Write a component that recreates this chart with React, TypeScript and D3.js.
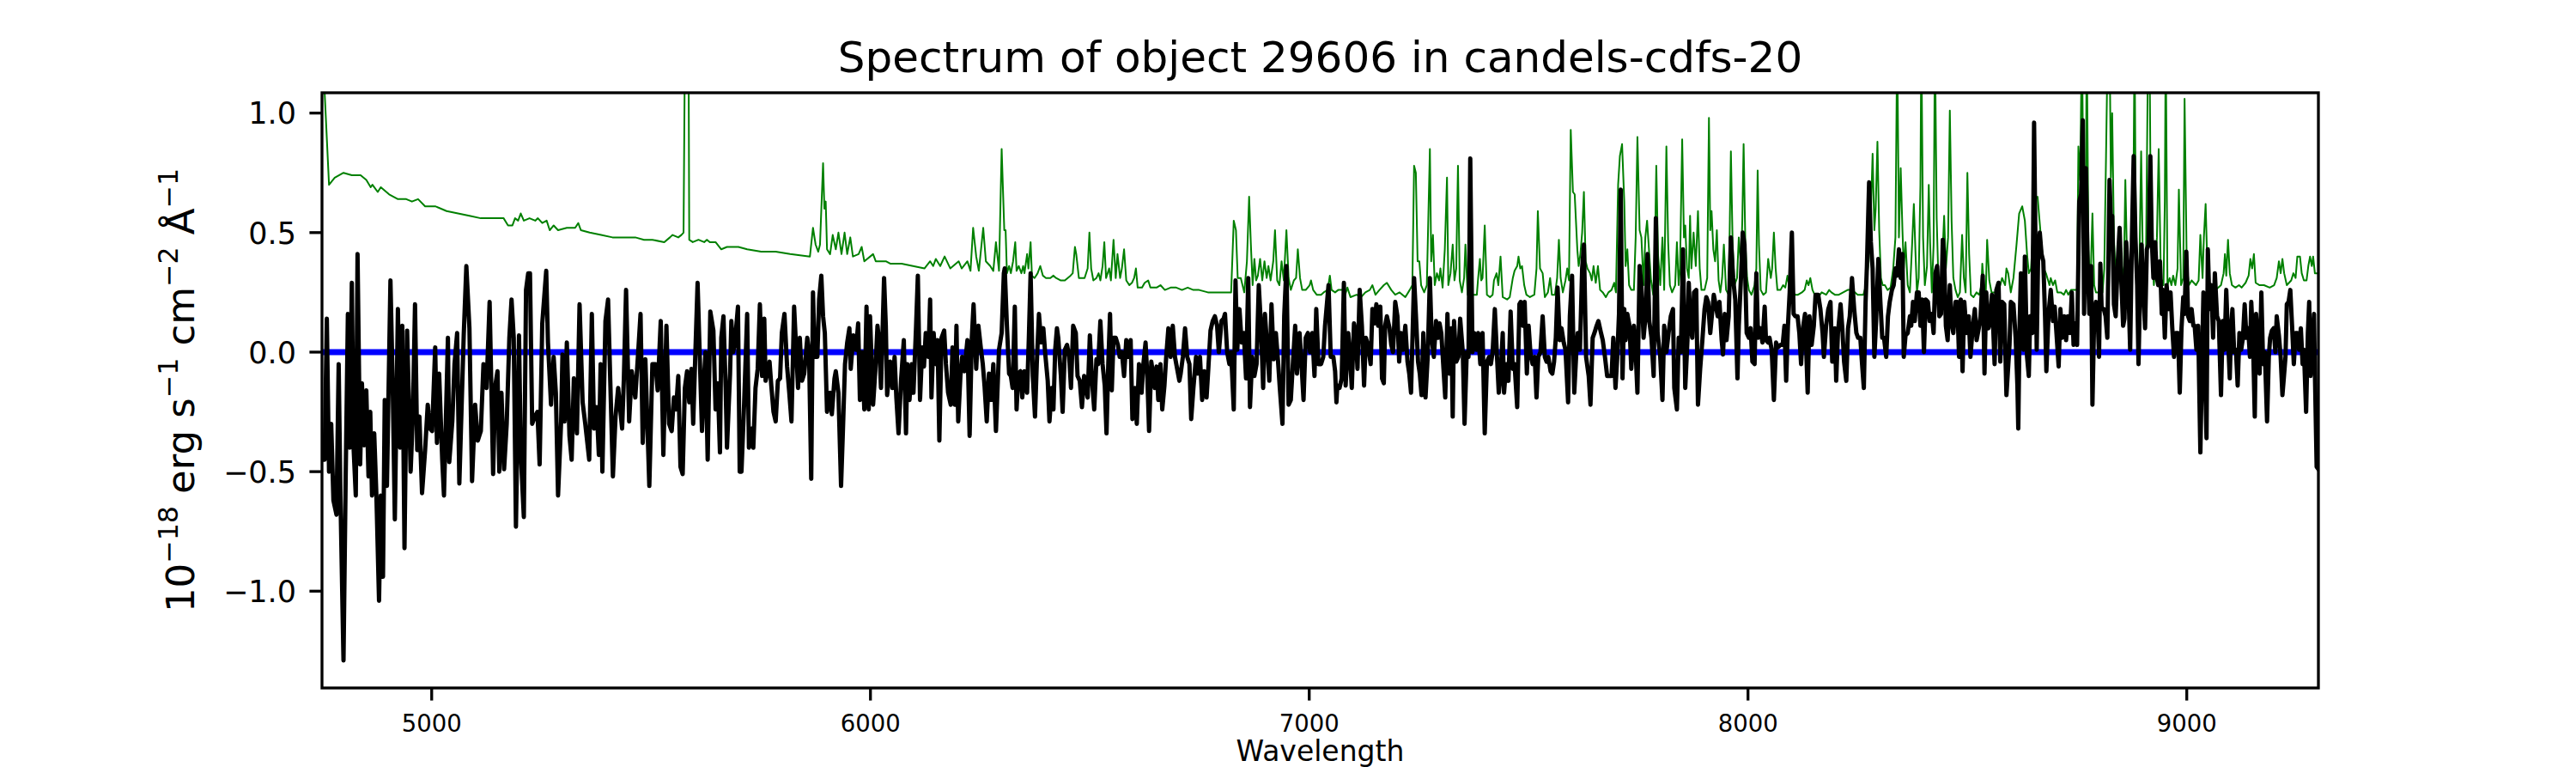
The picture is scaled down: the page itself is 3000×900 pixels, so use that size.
import React from "react";
import * as d3 from "d3";

type P = [number, number];

const TITLE = "Spectrum of object 29606 in candels-cdfs-20";
const X_LABEL = "Wavelength";
const xTicks = [5000, 6000, 7000, 8000, 9000];
const yTicks = [-1.0, -0.5, 0.0, 0.5, 1.0];
const xDomain: [number, number] = [4750, 9300];
const yDomain: [number, number] = [-1.405, 1.085];
const zeroLevel = 0;

// object spectrum (black)
const spec1: P[] = [[4750,-0.45],[4756,-0.45],[4761,0.14],[4766,-0.50],[4771,-0.30],[4776,-0.62],[4783,-0.68],[4788,-0.05],[4792,-0.60],[4799,-1.29],[4804,-0.52],[4809,0.16],[4813,-0.40],[4818,0.29],[4822,-0.40],[4827,-0.60],[4831,0.41],[4837,-0.47],[4841,-0.13],[4846,-0.39],[4851,-0.16],[4856,-0.52],[4860,-0.25],[4864,-0.60],[4869,-0.34],[4874,-0.60],[4880,-1.04],[4884,-0.60],[4889,-0.94],[4893,-0.20],[4898,-0.56],[4906,0.30],[4911,-0.12],[4916,-0.70],[4923,0.18],[4928,-0.40],[4933,0.11],[4938,-0.82],[4944,0.09],[4952,-0.50],[4957,-0.27],[4962,0.20],[4967,-0.41],[4972,-0.27],[4978,-0.59],[4985,-0.41],[4991,-0.22],[4996,-0.32],[5001,-0.33],[5008,0.02],[5012,-0.38],[5017,-0.09],[5024,-0.45],[5028,-0.60],[5037,0.06],[5040,-0.46],[5047,-0.29],[5052,-0.05],[5058,0.08],[5063,-0.55],[5073,0.07],[5079,0.36],[5086,0.10],[5092,-0.54],[5099,-0.22],[5105,-0.37],[5112,-0.33],[5118,-0.05],[5125,-0.15],[5132,0.21],[5140,-0.51],[5145,-0.14],[5150,-0.08],[5154,-0.50],[5159,-0.17],[5165,-0.49],[5171,-0.30],[5177,0.06],[5182,0.22],[5187,0.06],[5192,-0.73],[5199,0.07],[5203,-0.42],[5210,-0.69],[5215,0.26],[5220,0.33],[5224,0.33],[5229,-0.30],[5235,-0.27],[5241,-0.25],[5246,-0.47],[5252,0.12],[5261,0.34],[5265,0.04],[5272,-0.22],[5278,-0.02],[5283,-0.17],[5288,-0.60],[5295,-0.29],[5298,-0.01],[5303,-0.29],[5308,0.04],[5314,-0.35],[5319,-0.45],[5324,-0.11],[5331,-0.34],[5337,0.20],[5344,-0.21],[5350,-0.30],[5359,-0.45],[5365,0.16],[5370,-0.32],[5376,-0.23],[5381,-0.43],[5385,-0.05],[5389,-0.50],[5396,0.13],[5402,0.22],[5407,-0.12],[5413,-0.52],[5419,-0.27],[5425,-0.15],[5434,-0.32],[5438,-0.11],[5443,0.26],[5450,-0.29],[5456,-0.08],[5464,-0.19],[5471,0.01],[5476,0.16],[5481,-0.38],[5487,-0.03],[5496,-0.56],[5503,-0.05],[5510,-0.05],[5515,-0.16],[5522,0.13],[5528,-0.43],[5535,0.11],[5541,-0.30]];
const spec2: P[] = [[5547,-0.33],[5552,-0.19],[5557,-0.24],[5562,-0.10],[5567,-0.48],[5572,-0.51],[5577,-0.15],[5582,-0.08],[5587,-0.21],[5592,-0.07],[5596,-0.30],[5601,0.00],[5606,0.29],[5611,-0.02],[5616,-0.33],[5621,-0.10],[5624,0.00],[5629,-0.45],[5635,0.17],[5642,0.09],[5647,-0.24],[5652,-0.13],[5657,-0.42],[5660,0.06],[5665,0.15],[5670,-0.15],[5673,-0.40],[5680,-0.09],[5683,0.13],[5687,0.00],[5691,0.04],[5698,0.19],[5702,-0.50],[5706,-0.50],[5712,-0.22],[5719,0.16],[5723,-0.40],[5729,-0.32],[5733,-0.40],[5738,-0.15],[5743,-0.07],[5748,0.20],[5753,-0.10],[5758,0.14],[5761,-0.12],[5766,-0.08],[5770,-0.04],[5774,-0.14],[5779,-0.25],[5784,-0.29],[5789,-0.12],[5794,-0.11],[5798,0.08],[5804,0.16],[5810,-0.06],[5815,-0.17],[5820,-0.29],[5826,0.19],[5831,0.00],[5835,-0.15],[5839,0.06],[5844,-0.12],[5849,-0.09],[5856,0.06],[5860,0.00],[5865,-0.53],[5869,0.25],[5873,-0.02],[5879,-0.02],[5883,0.22],[5888,0.32],[5892,0.15],[5896,0.08],[5901,-0.25],[5908,-0.17],[5912,-0.26],[5918,-0.11],[5921,-0.08],[5927,-0.17],[5933,-0.56],[5937,-0.34],[5942,-0.05],[5947,0.04],[5952,0.10],[5955,-0.07],[5961,0.07],[5967,0.01],[5972,0.12],[5976,-0.20],[5981,0.00],[5986,-0.24],[5991,0.19],[5996,-0.24],[5999,0.15],[6006,-0.22],[6011,-0.08],[6016,0.11],[6020,0.04],[6024,-0.15],[6031,0.31],[6035,0.11],[6038,-0.18],[6045,-0.04],[6050,-0.15],[6055,-0.02],[6059,-0.19],[6064,-0.34],[6070,-0.11],[6076,0.05],[6081,-0.34],[6084,-0.05],[6089,-0.20],[6094,-0.05],[6098,-0.17],[6104,0.11],[6108,0.32],[6113,-0.20],[6118,0.02],[6122,-0.06],[6126,0.08],[6132,-0.02],[6136,0.22],[6139,-0.19],[6144,0.08],[6149,-0.05],[6153,0.05],[6157,-0.37],[6162,0.06],[6168,0.09],[6172,-0.05],[6177,-0.17],[6183,-0.22],[6187,0.02],[6192,-0.22],[6196,0.11],[6200,-0.29],[6205,-0.10],[6209,-0.02],[6214,-0.08],[6221,0.05],[6226,-0.35],[6231,0.06],[6235,0.20],[6241,-0.07],[6246,0.11],[6252,0.01],[6256,-0.05],[6260,-0.14],[6265,-0.29],[6270,-0.09],[6275,-0.20],[6280,-0.05],[6286,-0.33],[6293,0.01],[6299,0.08],[6304,0.33]];
const spec3: P[] = [[6306,0.35],[6311,0.11],[6316,-0.09],[6320,-0.10],[6324,-0.15],[6329,0.19],[6333,-0.24],[6337,-0.09],[6342,-0.08],[6346,-0.19],[6351,-0.08],[6357,-0.17],[6361,0.06],[6365,0.33],[6370,-0.10],[6375,-0.27],[6379,-0.05],[6384,0.16],[6389,0.04],[6394,0.10],[6398,0.00],[6404,-0.12],[6408,-0.29],[6413,-0.15],[6417,-0.24],[6421,0.01],[6425,0.10],[6428,0.06],[6434,-0.10],[6438,-0.25],[6443,0.01],[6448,0.03],[6453,-0.02],[6457,-0.15],[6462,0.11],[6468,0.08],[6472,-0.10],[6477,-0.12],[6482,-0.23],[6487,-0.10],[6491,-0.15],[6495,-0.19],[6500,0.07],[6505,-0.12],[6510,-0.24],[6515,-0.03],[6519,-0.05],[6524,0.13],[6529,-0.05],[6534,-0.14],[6538,-0.34],[6542,-0.05],[6546,0.16],[6550,-0.16],[6554,0.06],[6559,0.06],[6564,0.03],[6568,-0.02],[6573,0.00],[6578,-0.10],[6583,0.05],[6588,-0.02],[6593,0.05],[6597,-0.28],[6603,-0.15],[6607,-0.30],[6612,-0.05],[6618,-0.17],[6622,-0.05],[6627,0.04],[6631,-0.10],[6635,-0.33],[6640,-0.04],[6644,-0.09],[6648,-0.15],[6652,-0.06],[6656,-0.20],[6661,-0.05],[6665,-0.24],[6670,-0.14],[6674,-0.02],[6679,0.10],[6684,-0.02],[6689,0.11],[6694,-0.02],[6699,-0.07],[6704,-0.12],[6707,-0.09],[6712,-0.02],[6717,0.10],[6722,-0.02],[6727,-0.05],[6731,-0.28],[6736,-0.15],[6742,-0.02],[6746,-0.09],[6751,-0.02],[6756,-0.20],[6761,-0.08],[6766,-0.19],[6770,-0.07],[6775,0.09],[6780,0.13],[6785,0.15],[6790,0.11],[6794,0.00],[6800,0.13],[6805,0.14],[6808,0.16],[6813,0.00],[6818,-0.05],[6822,0.00],[6828,-0.24],[6832,0.30],[6836,0.01],[6841,0.18],[6846,0.04],[6851,0.08],[6856,-0.11],[6861,0.31],[6865,-0.23],[6870,-0.02],[6875,-0.10],[6880,-0.05],[6885,0.28],[6890,0.11],[6895,-0.15],[6899,0.16],[6905,0.00],[6909,-0.12],[6914,0.20],[6919,-0.03],[6924,0.08],[6929,-0.04],[6933,-0.15],[6939,-0.30],[6943,0.15],[6948,0.36],[6953,-0.22],[6958,-0.20],[6963,-0.04],[6968,0.11],[6972,-0.09],[6978,0.08],[6983,-0.07],[6987,-0.20],[6992,0.06],[6997,0.08],[7002,0.00],[7007,0.08],[7012,-0.10],[7016,0.18],[7021,-0.05],[7027,-0.05],[7032,-0.02],[7036,0.11],[7044,0.28],[7049,-0.02],[7055,-0.02],[7059,-0.08],[7062,-0.21]];
const spec4: P[] = [[7064,-0.14],[7069,-0.15],[7074,-0.11],[7079,0.29],[7083,-0.14],[7089,0.08],[7093,-0.02],[7097,-0.15],[7102,0.12],[7106,0.08],[7110,-0.07],[7115,0.26],[7120,0.11],[7125,-0.14],[7129,0.06],[7134,0.03],[7140,-0.05],[7144,0.18],[7149,0.12],[7153,0.20],[7157,0.11],[7162,0.19],[7166,-0.11],[7170,-0.13],[7173,0.11],[7177,0.15],[7183,0.10],[7187,0.03],[7191,0.00],[7196,0.21],[7201,0.15],[7205,-0.04],[7209,0.08],[7214,0.01],[7219,0.11],[7224,-0.04],[7228,-0.09],[7232,-0.17],[7239,0.31],[7243,0.16],[7248,-0.04],[7252,-0.09],[7256,-0.18],[7260,0.08],[7265,-0.19],[7270,-0.02],[7275,0.31],[7279,0.06],[7284,-0.02],[7289,0.13],[7294,0.06],[7297,0.12],[7301,0.08],[7306,-0.07],[7310,-0.19],[7315,0.16],[7319,-0.09],[7324,0.10],[7327,-0.27],[7330,0.13],[7335,-0.04],[7340,-0.02],[7344,0.14],[7350,0.00],[7354,-0.30],[7359,0.00],[7363,-0.02],[7367,0.81],[7372,0.00],[7376,0.08],[7381,0.01],[7385,0.08],[7390,-0.05],[7395,0.08],[7400,-0.34],[7405,-0.04],[7410,-0.02],[7414,-0.05],[7418,0.00],[7423,0.18],[7428,-0.02],[7432,-0.17],[7436,-0.10],[7441,0.08],[7444,-0.17],[7449,-0.05],[7454,-0.12],[7459,0.17],[7464,-0.07],[7468,-0.05],[7474,-0.23],[7479,0.20],[7482,0.21],[7487,0.11],[7491,0.21],[7496,-0.09],[7500,0.11],[7504,0.00],[7509,-0.05],[7514,-0.02],[7518,-0.19],[7522,-0.02],[7527,0.00],[7532,0.15],[7537,-0.02],[7541,-0.04],[7545,-0.02],[7550,-0.08],[7554,-0.09],[7558,-0.04],[7562,0.06],[7566,0.27],[7571,0.05],[7575,0.10],[7580,0.04],[7584,0.01],[7590,-0.21],[7594,0.15],[7599,0.32],[7604,-0.17],[7609,0.01],[7612,0.08],[7617,0.01],[7622,0.35],[7626,0.45],[7631,-0.02],[7637,-0.10],[7641,-0.22],[7646,0.06],[7650,0.08],[7655,0.11],[7659,0.13],[7665,0.08],[7669,0.05],[7674,-0.02],[7679,-0.10],[7684,-0.10],[7689,-0.10],[7693,0.06],[7698,-0.15],[7702,-0.02],[7706,0.16],[7710,0.68],[7714,-0.11],[7718,0.18],[7721,0.05],[7725,0.16],[7730,0.11],[7734,-0.07],[7740,0.11],[7744,0.00],[7748,-0.17],[7753,0.36],[7757,0.28],[7762,0.06],[7767,0.16],[7771,0.41],[7775,0.13],[7780,0.06],[7785,-0.10],[7790,0.56],[7794,0.08],[7800,-0.02],[7805,-0.20],[7809,0.11],[7814,0.00],[7819,0.08],[7824,0.15],[7829,0.18]];
const spec5: P[] = [[7832,-0.15],[7838,-0.24],[7842,0.06],[7847,0.00],[7852,0.43],[7857,-0.15],[7862,0.05],[7865,0.29],[7869,0.11],[7873,0.06],[7877,0.25],[7882,0.26],[7886,-0.22],[7891,-0.07],[7896,0.05],[7901,0.18],[7905,0.23],[7909,0.21],[7914,0.08],[7918,0.16],[7922,0.24],[7926,0.20],[7931,0.15],[7935,0.21],[7940,0.05],[7943,-0.01],[7947,0.16],[7951,0.05],[7956,0.15],[7961,0.48],[7966,0.31],[7971,0.22],[7976,-0.11],[7979,0.11],[7984,0.31],[7988,0.50],[7992,0.45],[7997,0.08],[8002,0.06],[8006,0.10],[8010,-0.04],[8015,-0.05],[8019,0.33],[8023,0.06],[8028,0.10],[8033,0.04],[8038,0.19],[8041,0.05],[8046,0.04],[8049,0.06],[8054,0.01],[8059,-0.20],[8064,0.04],[8068,0.02],[8074,0.03],[8079,0.03],[8083,0.11],[8087,-0.12],[8091,0.11],[8095,0.25],[8100,0.50],[8104,0.16],[8108,0.15],[8113,0.15],[8117,0.08],[8121,-0.05],[8126,0.11],[8130,0.16],[8136,-0.17],[8140,0.15],[8145,0.03],[8150,0.11],[8154,0.24],[8160,0.24],[8165,0.18],[8170,0.08],[8173,-0.02],[8178,0.11],[8183,0.18],[8188,0.21],[8192,-0.04],[8198,0.10],[8201,-0.12],[8205,0.08],[8211,0.20],[8215,0.10],[8219,-0.04],[8224,-0.12],[8228,0.10],[8232,0.15],[8237,0.31],[8242,0.18],[8247,0.08],[8251,0.06],[8256,0.06],[8260,-0.05],[8264,-0.15],[8268,0.21],[8271,0.36],[8276,0.71],[8280,0.46],[8284,0.35],[8288,-0.02],[8292,0.13],[8297,0.39],[8302,0.20],[8306,0.06],[8310,0.06],[8315,-0.02],[8319,0.15],[8323,0.21],[8328,0.26],[8332,0.28],[8336,0.35],[8340,0.32],[8344,0.43],[8348,0.31],[8352,0.41],[8355,-0.02],[8359,0.07],[8364,0.08],[8369,0.15],[8372,0.11],[8376,0.21],[8380,0.13],[8385,0.25],[8389,0.25],[8393,0.11],[8397,0.22],[8401,0.00],[8405,0.22],[8410,0.21],[8414,0.13],[8419,0.16],[8423,0.08],[8427,0.33],[8431,0.36],[8436,0.15],[8440,0.16],[8444,0.47],[8447,0.40],[8451,0.11],[8455,0.05],[8460,0.28],[8464,0.12],[8468,0.08],[8473,0.21],[8477,0.21],[8481,-0.02],[8485,0.22],[8489,-0.08],[8493,0.21],[8498,0.08],[8503,0.15],[8507,-0.02],[8512,0.10],[8517,0.18],[8521,0.05],[8526,0.10],[8530,0.15],[8535,0.32],[8539,-0.09],[8543,0.25],[8548,0.10],[8552,0.13],[8556,0.24],[8562,-0.05],[8566,0.26],[8571,0.29],[8575,-0.04],[8579,0.21],[8584,0.20],[8589,-0.18]];
const spec6: P[] = [[8596,0.03],[8599,0.21],[8605,0.20],[8610,0.06],[8614,-0.14],[8616,-0.32],[8619,0.11],[8622,0.33],[8626,0.25],[8628,0.01],[8631,0.40],[8636,-0.02],[8640,-0.10],[8643,0.15],[8648,0.08],[8652,0.96],[8655,0.48],[8658,0.01],[8661,0.38],[8665,0.50],[8669,0.41],[8673,0.38],[8677,0.15],[8680,-0.08],[8685,0.16],[8690,0.26],[8695,0.13],[8699,0.19],[8703,0.08],[8708,-0.06],[8712,0.18],[8716,0.06],[8721,0.15],[8725,0.05],[8729,0.15],[8734,0.08],[8738,0.25],[8742,0.03],[8746,0.12],[8750,0.03],[8755,0.63],[8759,0.66],[8763,0.97],[8766,0.16],[8770,0.77],[8774,0.37],[8778,0.16],[8782,0.36],[8785,-0.22],[8789,0.15],[8793,0.21],[8797,0.15],[8800,-0.02],[8803,0.37],[8806,0.18],[8811,0.18],[8815,0.15],[8819,0.06],[8824,0.72],[8828,0.50],[8830,0.57],[8834,0.20],[8838,0.15],[8842,0.35],[8847,0.52],[8851,0.29],[8855,0.11],[8858,0.14],[8862,0.46],[8866,0.33],[8871,0.01],[8875,0.48],[8879,0.82],[8883,0.48],[8887,0.28],[8890,-0.05],[8894,0.30],[8897,0.45],[8901,0.25],[8905,0.10],[8909,0.43],[8913,0.45],[8917,0.82],[8920,0.48],[8924,0.31],[8928,0.46],[8932,0.31],[8935,0.28],[8939,0.38],[8943,0.16],[8946,0.26],[8950,0.06],[8954,0.28],[8959,0.18],[8963,0.25],[8967,0.10],[8971,-0.02],[8975,0.08],[8980,0.08],[8984,-0.17],[8988,0.10],[8992,0.23],[8995,0.16],[8999,0.42],[9003,0.15],[9007,0.13],[9011,0.18],[9015,0.11],[9018,0.11],[9022,0.01],[9026,0.11],[9031,-0.42],[9035,-0.02],[9038,0.25],[9041,-0.05],[9045,-0.36],[9048,0.43],[9052,0.18],[9056,0.28],[9060,0.06],[9064,0.33],[9069,0.15],[9073,0.13],[9078,-0.18],[9082,0.13],[9086,0.01],[9090,0.26],[9094,0.06],[9098,-0.11],[9101,0.10],[9104,0.18],[9108,0.00],[9112,0.01],[9116,-0.14],[9120,0.08],[9124,0.01],[9128,0.06],[9132,0.20],[9136,0.06],[9140,0.10],[9144,-0.02],[9147,0.21],[9151,0.05],[9155,-0.27],[9158,0.16],[9162,0.05],[9166,-0.09],[9170,0.25],[9174,-0.05],[9178,0.00],[9183,-0.29],[9187,-0.02],[9190,0.06],[9194,0.09],[9198,0.10],[9202,0.00],[9205,0.15],[9210,0.07],[9214,-0.02],[9218,-0.18],[9222,-0.09],[9225,-0.02],[9228,0.20],[9232,0.21],[9236,0.26],[9240,0.11],[9244,-0.05],[9248,0.08],[9252,0.08],[9256,0.01],[9260,0.10],[9264,-0.05],[9267,0.01],[9272,-0.25],[9276,0.08],[9279,0.21],[9282,-0.10],[9286,0.01],[9290,0.16],[9292,-0.08],[9296,-0.48],[9300,-0.49]];

// noise / sky (green)
const noise1: P[] = [[4750,1.32],[4766,0.70],[4779,0.73],[4799,0.75],[4818,0.74],[4838,0.74],[4851,0.72],[4861,0.69],[4865,0.70],[4877,0.67],[4884,0.69],[4903,0.66],[4923,0.64],[4942,0.64],[4955,0.63],[4969,0.64],[4985,0.61],[5008,0.61],[5034,0.59],[5060,0.58],[5086,0.57],[5112,0.56],[5138,0.56],[5164,0.56],[5174,0.53],[5184,0.53],[5190,0.56],[5197,0.55],[5203,0.58],[5210,0.55],[5223,0.56],[5236,0.55],[5242,0.56],[5252,0.54],[5262,0.55],[5269,0.51],[5278,0.53],[5288,0.51],[5308,0.52],[5327,0.52],[5334,0.54],[5340,0.51],[5360,0.50],[5386,0.49],[5412,0.48],[5438,0.48],[5464,0.48],[5484,0.47],[5503,0.47],[5530,0.46]];
const noise2: P[] = [[5543,0.48],[5549,0.49],[5562,0.48],[5569,0.49],[5574,0.50],[5578,1.5],[5585,1.5],[5587,0.47],[5595,0.46],[5608,0.47],[5621,0.46],[5627,0.47],[5634,0.46],[5647,0.46],[5660,0.43],[5673,0.44],[5699,0.44],[5719,0.43],[5751,0.42],[5784,0.42],[5817,0.41],[5862,0.40],[5869,0.52],[5875,0.45],[5881,0.42],[5885,0.45],[5892,0.79],[5895,0.60],[5898,0.63],[5901,0.43],[5908,0.41],[5914,0.49],[5921,0.43],[5927,0.50],[5934,0.41],[5941,0.50],[5947,0.41],[5954,0.48],[5960,0.40],[5973,0.41],[5980,0.44],[5986,0.38],[6006,0.41],[6012,0.38],[6035,0.38],[6045,0.37],[6071,0.37],[6097,0.36],[6123,0.35],[6136,0.38],[6143,0.36],[6149,0.39],[6159,0.36],[6169,0.40],[6182,0.35],[6201,0.38],[6208,0.35],[6221,0.38],[6228,0.34],[6234,0.52],[6241,0.40],[6247,0.34],[6257,0.52],[6263,0.38],[6273,0.36],[6280,0.34],[6286,0.46],[6293,0.34],[6299,0.85]];
const noise3: P[] = [[6305,0.51],[6308,0.51],[6311,0.33],[6316,0.36],[6320,0.33],[6325,0.38],[6330,0.46],[6333,0.34],[6338,0.36],[6344,0.33],[6348,0.36],[6351,0.33],[6357,0.41],[6360,0.35],[6365,0.46],[6368,0.32],[6374,0.31],[6381,0.33],[6387,0.36],[6393,0.32],[6400,0.31],[6410,0.31],[6417,0.32],[6423,0.31],[6433,0.30],[6443,0.30],[6456,0.32],[6461,0.33],[6466,0.44],[6469,0.41],[6475,0.31],[6488,0.31],[6495,0.35],[6499,0.50],[6503,0.35],[6508,0.30],[6515,0.31],[6520,0.33],[6524,0.30],[6529,0.36],[6533,0.46],[6537,0.31],[6544,0.35],[6548,0.30],[6554,0.47],[6559,0.31],[6563,0.41],[6569,0.31],[6573,0.35],[6578,0.43],[6583,0.30],[6590,0.28],[6596,0.29],[6601,0.31],[6605,0.35],[6609,0.27],[6619,0.27],[6625,0.29],[6633,0.30],[6638,0.27],[6652,0.27],[6661,0.28],[6671,0.26],[6684,0.27],[6697,0.27],[6710,0.26],[6723,0.27],[6736,0.26],[6749,0.26],[6769,0.25],[6789,0.25],[6808,0.25],[6822,0.25],[6828,0.55],[6833,0.51],[6837,0.31],[6844,0.31],[6852,0.25],[6858,0.38],[6863,0.65],[6867,0.45],[6871,0.28],[6875,0.39],[6879,0.30],[6883,0.32],[6888,0.39],[6893,0.30],[6898,0.38],[6903,0.31],[6907,0.36],[6912,0.30],[6918,0.38],[6922,0.51],[6927,0.30],[6932,0.28],[6937,0.38],[6942,0.30],[6948,0.51],[6953,0.31],[6958,0.26],[6965,0.30],[6970,0.31],[6974,0.43],[6979,0.31],[6984,0.26],[6992,0.26],[7001,0.28],[7004,0.30],[7009,0.26],[7017,0.24],[7027,0.24],[7033,0.25],[7042,0.26],[7047,0.32],[7051,0.26],[7059,0.25]];
const noise4: P[] = [[7066,0.26],[7076,0.26],[7082,0.24],[7087,0.27],[7094,0.23],[7108,0.24],[7118,0.23],[7128,0.25],[7138,0.26],[7144,0.28],[7151,0.24],[7160,0.26],[7170,0.28],[7177,0.29],[7187,0.26],[7196,0.24],[7206,0.25],[7219,0.23],[7229,0.26],[7235,0.28],[7239,0.78],[7243,0.75],[7247,0.38],[7251,0.38],[7255,0.28],[7262,0.25],[7268,0.28],[7275,0.85],[7278,0.38],[7282,0.49],[7286,0.28],[7291,0.33],[7296,0.30],[7299,0.35],[7304,0.27],[7309,0.43],[7314,0.73],[7317,0.28],[7322,0.33],[7327,0.45],[7331,0.30],[7335,0.35],[7339,0.78],[7343,0.30],[7348,0.25],[7353,0.31],[7356,0.45],[7361,0.24],[7369,0.24],[7376,0.24],[7382,0.24],[7385,0.31],[7389,0.39],[7392,0.30],[7395,0.31],[7400,0.53],[7405,0.24],[7412,0.23],[7418,0.24],[7421,0.30],[7427,0.33],[7431,0.28],[7436,0.40],[7441,0.23],[7451,0.22],[7457,0.23],[7464,0.31],[7468,0.34],[7474,0.36],[7477,0.40],[7481,0.35],[7485,0.36],[7490,0.28],[7495,0.24],[7503,0.23],[7513,0.24],[7518,0.35],[7521,0.59],[7526,0.35],[7532,0.33],[7537,0.23],[7544,0.25],[7549,0.31],[7553,0.24],[7560,0.24],[7565,0.31],[7569,0.47],[7573,0.31],[7578,0.25],[7584,0.30],[7588,0.35],[7592,0.30],[7596,0.93],[7601,0.67],[7605,0.66],[7611,0.43],[7614,0.36],[7618,0.41],[7622,0.50],[7626,0.67],[7630,0.38],[7634,0.35],[7640,0.33],[7644,0.30],[7648,0.36],[7653,0.29],[7658,0.36],[7663,0.26],[7669,0.25],[7676,0.23],[7682,0.25],[7689,0.26],[7695,0.29],[7699,0.25],[7704,0.70],[7708,0.82],[7713,0.87],[7718,0.63],[7721,0.36],[7725,0.43],[7729,0.28],[7734,0.26],[7740,0.26],[7744,0.48],[7748,0.90],[7753,0.51],[7757,0.48],[7762,0.28],[7766,0.48],[7770,0.55],[7775,0.41],[7779,0.30],[7784,0.24],[7788,0.45],[7791,0.78],[7795,0.41],[7800,0.28],[7805,0.48],[7809,0.26],[7814,0.86],[7818,0.46]];
const noise5: P[] = [[7822,0.28],[7827,0.25],[7834,0.28],[7838,0.46],[7842,0.28],[7845,0.35],[7850,0.89],[7854,0.48],[7857,0.53],[7861,0.35],[7865,0.31],[7868,0.57],[7871,0.35],[7876,0.50],[7881,0.36],[7886,0.59],[7890,0.35],[7894,0.26],[7901,0.26],[7907,0.31],[7911,0.98],[7914,0.51],[7917,0.59],[7921,0.43],[7925,0.38],[7929,0.51],[7933,0.30],[7937,0.25],[7941,0.31],[7945,0.45],[7950,0.26],[7956,0.24],[7961,0.84],[7965,0.45],[7969,0.28],[7975,0.31],[7979,0.48],[7984,0.36],[7987,0.55],[7990,0.87],[7994,0.45],[7998,0.31],[8002,0.26],[8008,0.24],[8015,0.28],[8019,0.35],[8022,0.76],[8025,0.45],[8029,0.26],[8035,0.24],[8041,0.25],[8046,0.39],[8052,0.31],[8055,0.35],[8059,0.50],[8063,0.35],[8067,0.26],[8074,0.26],[8080,0.28],[8085,0.27],[8090,0.32],[8095,0.26],[8100,0.25],[8108,0.24],[8114,0.24],[8123,0.25],[8129,0.26],[8134,0.30],[8138,0.28],[8142,0.31],[8147,0.26],[8152,0.24],[8160,0.23],[8168,0.25],[8178,0.24],[8185,0.26],[8190,0.25],[8198,0.24],[8207,0.24],[8217,0.25],[8227,0.26],[8237,0.26],[8250,0.24],[8263,0.24],[8269,0.28],[8275,0.38],[8280,0.58],[8284,0.83],[8288,0.51],[8291,0.60],[8295,0.88],[8299,0.51],[8303,0.31],[8307,0.28],[8312,0.28],[8318,0.26],[8325,0.27],[8331,0.35],[8336,0.48],[8340,1.32],[8344,0.48],[8348,0.77],[8352,0.51],[8355,0.35],[8359,0.46],[8364,0.28],[8369,0.25],[8374,0.45],[8378,0.62],[8382,0.40],[8385,0.25],[8389,0.31],[8393,0.70],[8395,1.32],[8399,0.48],[8403,0.28],[8408,0.36],[8412,0.70],[8415,0.46],[8419,0.25],[8423,0.45],[8426,1.32],[8430,0.56],[8434,0.30],[8438,0.26],[8442,0.35],[8447,0.57],[8451,0.35],[8456,0.48],[8460,1.01],[8464,0.55],[8468,0.31],[8473,0.26],[8478,0.23],[8483,0.25],[8488,0.49],[8492,0.31],[8496,0.25],[8500,0.75],[8504,0.41],[8508,0.24],[8514,0.23],[8521,0.25],[8527,0.24],[8532,0.28],[8534,0.37],[8538,0.28],[8542,0.25],[8545,0.47],[8550,0.30],[8555,0.25],[8563,0.25],[8569,0.26],[8575,0.28],[8579,0.31],[8586,0.28],[8589,0.35],[8593,0.33]];
const noise6: P[] = [[8599,0.25],[8605,0.31],[8612,0.45],[8618,0.58],[8625,0.61],[8631,0.55],[8636,0.41],[8640,0.33],[8645,0.35],[8649,0.48],[8654,0.64],[8660,0.65],[8664,0.56],[8669,0.45],[8674,0.35],[8679,0.33],[8684,0.30],[8687,0.28],[8690,0.31],[8695,0.28],[8700,0.30],[8705,0.25],[8713,0.25],[8720,0.24],[8725,0.26],[8730,0.24],[8736,0.26],[8746,0.26],[8750,0.26],[8753,0.86],[8757,0.72],[8761,1.32],[8765,0.58],[8769,0.33],[8772,1.32],[8776,0.43],[8780,0.25],[8785,0.58],[8789,0.28],[8793,0.25],[8801,0.25],[8808,0.25],[8812,0.35],[8816,0.82],[8820,1.32],[8824,1.32],[8827,0.73],[8830,1.00],[8834,0.48],[8838,0.31],[8842,0.28],[8847,0.36],[8851,0.29],[8857,0.36],[8860,0.72],[8864,0.38],[8870,0.35],[8874,0.28],[8878,0.56],[8881,1.32],[8884,0.48],[8888,0.28],[8892,0.35],[8896,0.84],[8900,0.38],[8903,0.30],[8907,0.38],[8912,1.32],[8915,1.32],[8918,0.56],[8922,0.38],[8925,0.28],[8928,0.35],[8932,0.48],[8936,0.85],[8941,0.31],[8947,0.28],[8950,0.63],[8952,1.32],[8956,0.28],[8961,0.31],[8965,0.28],[8969,0.32],[8974,0.28],[8979,0.35],[8982,0.68],[8987,0.28],[8992,0.31],[8995,1.06],[9000,0.36],[9005,0.28],[9011,0.30],[9016,0.29],[9021,0.28],[9027,0.30],[9031,0.49],[9036,0.31],[9039,0.48],[9043,0.62],[9047,0.35],[9052,0.28],[9059,0.28],[9065,0.26],[9072,0.27],[9078,0.28],[9084,0.33],[9087,0.41],[9090,0.32],[9094,0.47],[9098,0.33],[9103,0.28],[9111,0.27],[9119,0.28],[9125,0.27],[9134,0.29],[9141,0.32],[9145,0.39],[9149,0.35],[9153,0.41],[9157,0.29],[9166,0.28],[9176,0.28],[9189,0.27],[9199,0.28],[9205,0.31],[9210,0.38],[9214,0.33],[9218,0.39],[9222,0.33],[9228,0.28],[9238,0.30],[9243,0.33],[9248,0.31],[9252,0.40],[9258,0.40],[9262,0.33],[9267,0.30],[9273,0.30],[9277,0.36],[9281,0.40],[9285,0.36],[9288,0.40],[9292,0.33],[9300,0.33]];

const FONT = "DejaVu Sans, Liberation Sans, sans-serif";

export default function App() {
  const left = 375, right = 2700, top = 108, bottom = 801;
  const x = d3.scaleLinear().domain(xDomain).range([left, right]);
  const y = d3.scaleLinear().domain(yDomain).range([bottom, top]);
  const line = d3.line<P>().x((d) => x(d[0])).y((d) => y(d[1]));
  const spectrum = [...spec1, ...spec2, ...spec3, ...spec4, ...spec5, ...spec6];
  const noise = [...noise1, ...noise2, ...noise3, ...noise4, ...noise5, ...noise6];
  const fmt = d3.format(".1f");
  const tickLen = 14.6;
  const sw = 3.3;
  const supSize = 31.5;
  const raise = 19;

  return (
    <svg
      width={3000}
      height={900}
      style={{ position: "absolute", left: 0, top: 0, background: "#fff" }}
      fontFamily={FONT}
    >
      <rect x={0} y={0} width={3000} height={900} fill="#fff" />
      <defs>
        <clipPath id="plotclip">
          <rect x={left} y={top} width={right - left} height={bottom - top} />
        </clipPath>
      </defs>
      <g clipPath="url(#plotclip)">
        <path d={line(noise) || ""} fill="none" stroke="#008000" strokeWidth={2} strokeLinejoin="round" />
        <line x1={x(xDomain[0])} x2={x(xDomain[1])} y1={y(zeroLevel)} y2={y(zeroLevel)} stroke="#0000ff" strokeWidth={7} />
        <path d={line(spectrum) || ""} fill="none" stroke="#000" strokeWidth={5} strokeLinejoin="round" strokeLinecap="square" />
      </g>
      <rect x={left} y={top} width={right - left} height={bottom - top} fill="none" stroke="#000" strokeWidth={sw} />
      {xTicks.map((t) => (
        <g key={"x" + t}>
          <line x1={x(t)} x2={x(t)} y1={bottom} y2={bottom + tickLen} stroke="#000" strokeWidth={sw} />
          <text x={x(t)} y={852} fontSize={27.5} textAnchor="middle" fill="#000">
            {String(t)}
          </text>
        </g>
      ))}
      {yTicks.map((t) => (
        <g key={"y" + t}>
          <line x1={left - tickLen} x2={left} y1={y(t)} y2={y(t)} stroke="#000" strokeWidth={sw} />
          <text x={345} y={y(t) + 12.7} fontSize={35} textAnchor="end" fill="#000">
            {fmt(t)}
          </text>
        </g>
      ))}
      <text x={(left + right) / 2} y={84} fontSize={50} textAnchor="middle" fill="#000">
        {TITLE}
      </text>
      <text x={(left + right) / 2} y={886} fontSize={33} textAnchor="middle" fill="#000">
        {X_LABEL}
      </text>
      <text transform={`translate(226,${(top + bottom) / 2}) rotate(-90)`} fontSize={45} textAnchor="middle" fill="#000">
        <tspan>10</tspan>
        <tspan fontSize={supSize} dy={-raise}>{"\u221218"}</tspan>
        <tspan dy={raise}>{" erg s"}</tspan>
        <tspan fontSize={supSize} dy={-raise}>{"\u22121"}</tspan>
        <tspan dy={raise}>{" cm"}</tspan>
        <tspan fontSize={supSize} dy={-raise}>{"\u22122"}</tspan>
        <tspan dy={raise}>{" \u00c5"}</tspan>
        <tspan fontSize={supSize} dy={-raise}>{"\u22121"}</tspan>
      </text>
    </svg>
  );
}
